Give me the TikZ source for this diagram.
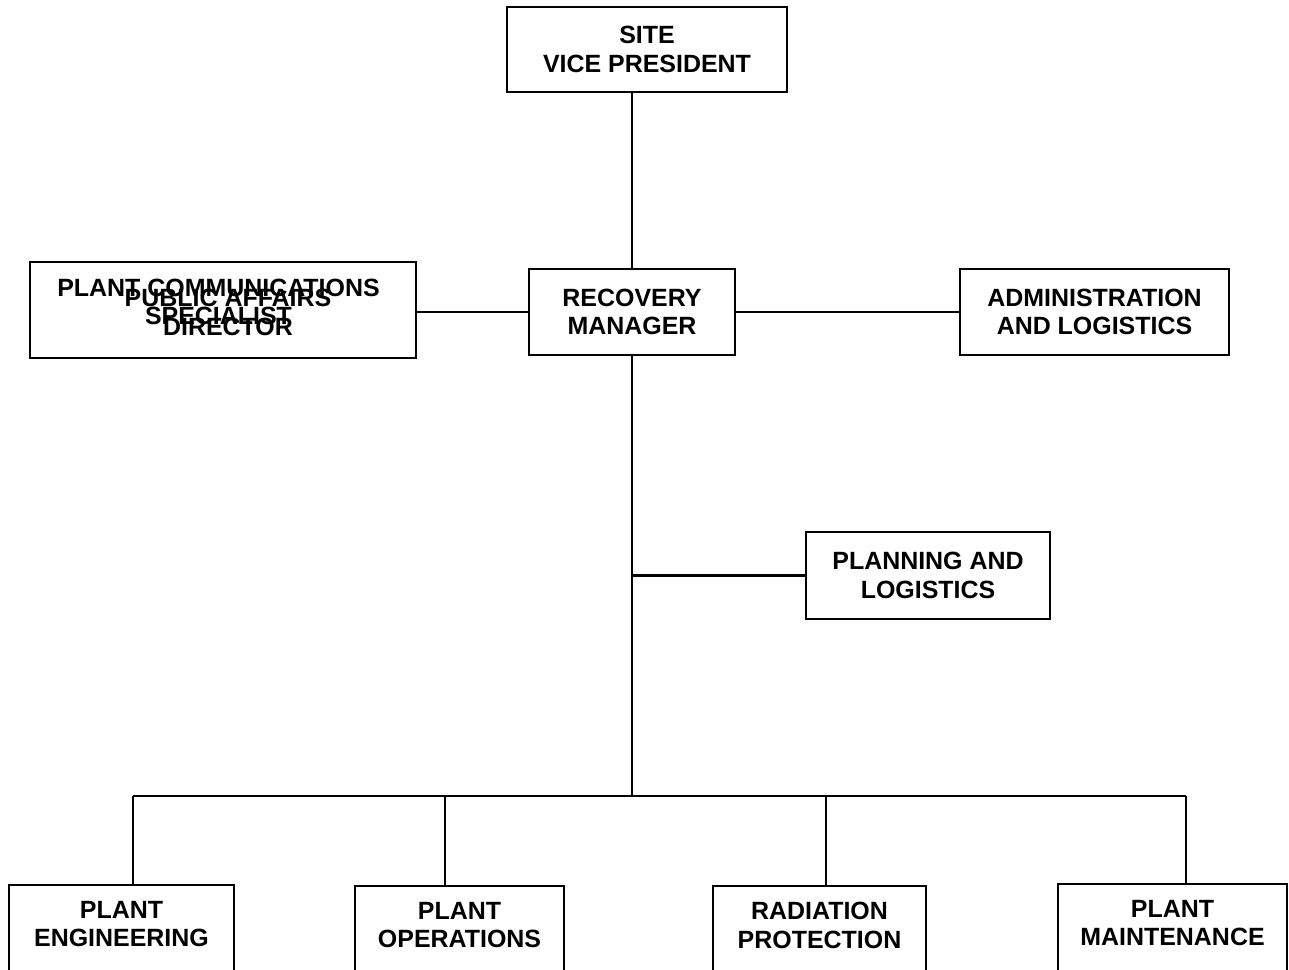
\documentclass[tikz,border=0pt]{standalone}
\usepackage{fontspec}
\setmainfont{Liberation Sans}
\begin{document}
\begin{tikzpicture}
[x=0.02cm, y=-0.02cm, line width=1.2pt,
 every node/.style={draw, align=center, font=\fontsize{14.2}{16.4}\selectfont\bfseries},
 plain/.style={draw=none},
 bottombox/.style={anchor=north, inner ysep=9pt, text depth=20pt}]
\path[use as bounding box, clip] (0,0) rectangle (1289,970);

\node (vp) [minimum width=5.6cm, minimum height=1.7cm] at (647,49.5) {SITE\\VICE PRESIDENT};
\node (rm) [minimum width=4.12cm, minimum height=1.72cm] at (632,312) {RECOVERY\\MANAGER};
\node (pcs) [minimum width=7.72cm, minimum height=1.92cm] at (223,310) {};
\node (pcstext) [plain] at (218.5,302) {PLANT COMMUNICATIONS\\SPECIALIST};
\node (pad) [plain] at (228,312.5) {PUBLIC AFFAIRS\\DIRECTOR};
\node (adm) [minimum width=5.38cm, minimum height=1.72cm] at (1094.5,312) {ADMINISTRATION\\AND LOGISTICS};
\node (plan) [minimum width=4.88cm, minimum height=1.74cm] at (928,575.5) {PLANNING AND\\LOGISTICS};

\node (eng) [bottombox, minimum width=4.5cm] at (121.5,884) {PLANT\\ENGINEERING};
\node (ops) [bottombox, minimum width=4.18cm] at (459.5,885) {PLANT\\OPERATIONS};
\node (rad) [bottombox, minimum width=4.26cm] at (819.5,885) {RADIATION\\PROTECTION};
\node (mnt) [bottombox, minimum width=4.58cm] at (1172.5,883) {PLANT\\MAINTENANCE};

% connectors
\coordinate (bus) at (632,796);
\coordinate (d1) at (133,796);
\coordinate (d2) at (445,796);
\coordinate (d3) at (826,796);
\coordinate (d4) at (1186,796);

\draw (rm.north) -- (rm.north |- vp.south);
\draw (rm.west) -- (rm.west -| pcs.east);
\draw (rm.east) -- (adm.west);
\draw (rm.south) -- (bus);
\draw (rm.south |- plan.west) -- (plan.west);
\draw (d1) -- (d4);
\draw (d1) -- (d1 |- eng.north);
\draw (d2) -- (d2 |- ops.north);
\draw (d3) -- (d3 |- rad.north);
\draw (d4) -- (d4 |- mnt.north);
\end{tikzpicture}
\end{document}
